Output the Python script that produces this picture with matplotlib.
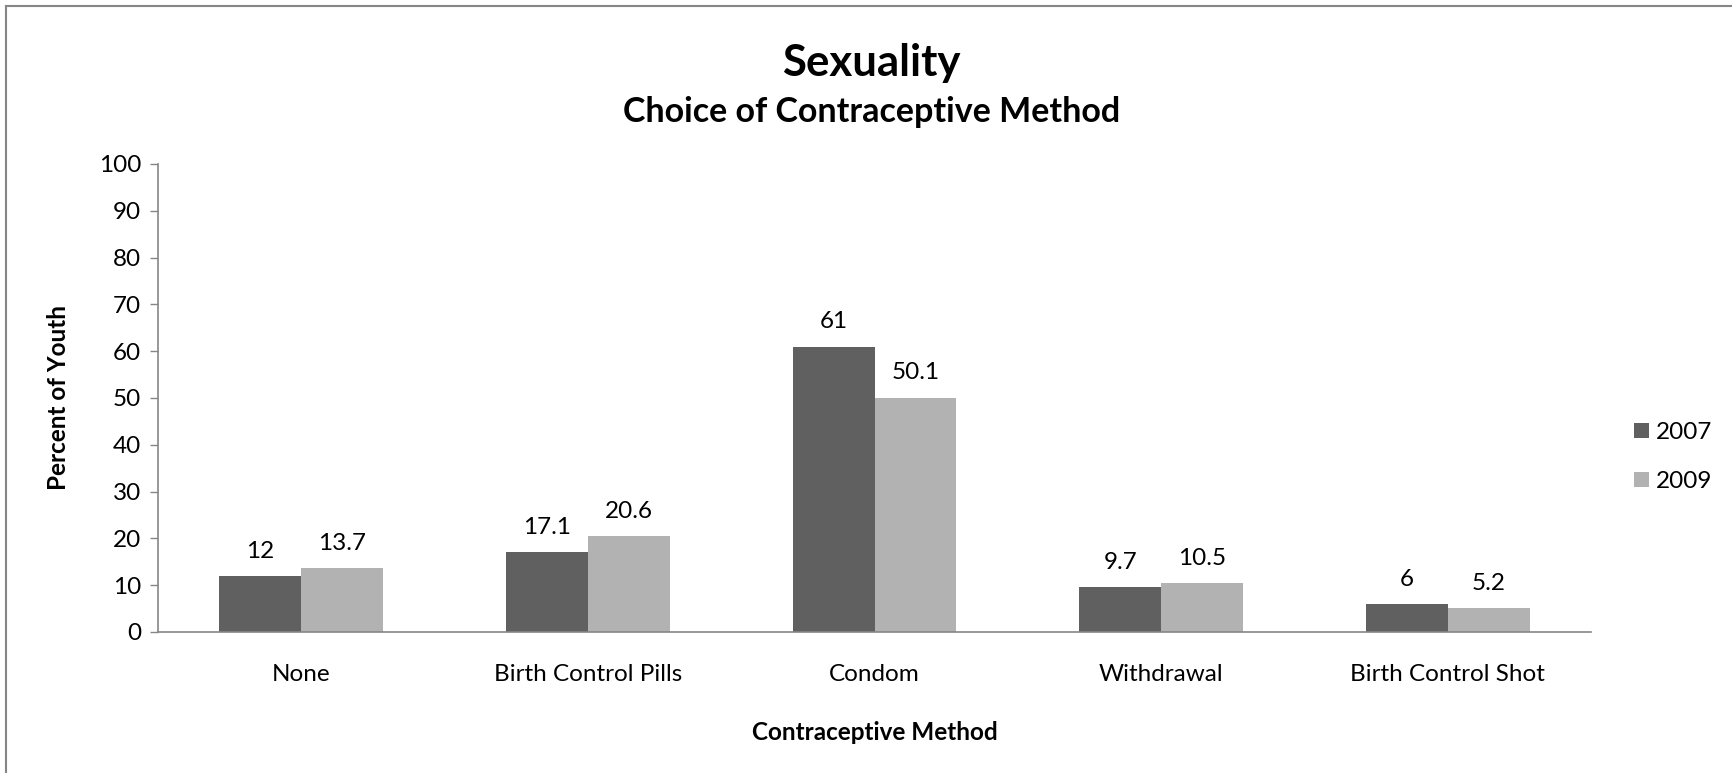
import matplotlib
matplotlib.use("Agg")
import matplotlib.pyplot as plt
from matplotlib.lines import Line2D
import numpy as np

plt.rcParams['font.family'] = ['Lato', 'DejaVu Sans']

categories = ["None", "Birth Control Pills", "Condom", "Withdrawal", "Birth Control Shot"]
years = ["2007", "2009"]
vals_2007 = [12, 17.1, 61, 9.7, 6]
vals_2009 = [13.7, 20.6, 50.1, 10.5, 5.2]
yticks = list(range(0, 101, 10))

dark = "#606060"
light = "#b2b2b2"
axis_gray = "#868686"
fs = 17.5

fig = plt.figure(figsize=(17.32, 7.73), dpi=100)
ax = fig.add_axes([158/1732, 1-632/773, (1591-158)/1732, (632-164)/773])

x = np.arange(len(categories))
w = 1/3.5
b1 = ax.bar(x - w/2, vals_2007, w, color=dark, label=years[0])
b2 = ax.bar(x + w/2, vals_2009, w, color=light, label=years[1])

# value labels above bars
for bars, vals in ((b1, vals_2007), (b2, vals_2009)):
    for r, v in zip(bars, vals):
        ax.annotate("%g" % v, (r.get_x() + r.get_width()/2, r.get_height()),
                    xytext=(0, 13), textcoords="offset points",
                    ha="center", va="baseline", fontsize=fs)

ax.set_xlim(-0.5, len(categories) - 0.5)
ax.set_ylim(0, 100)
ax.set_yticks(yticks)
ax.set_xticks(x)
ax.set_xticklabels(categories, fontsize=fs)
ax.tick_params(axis="y", labelsize=fs, length=6, width=1, color=axis_gray, pad=6)
ax.tick_params(axis="x", length=0, pad=23)

for s in ("top", "right"):
    ax.spines[s].set_visible(False)
for s in ("left", "bottom"):
    ax.spines[s].set_color(axis_gray)
    ax.spines[s].set_linewidth(1.2)

ax.set_xlabel("Contraceptive Method", fontsize=fs, fontweight="bold")
ax.xaxis.set_label_coords(0.5, (632-733)/468)
ax.xaxis.label.set_va("center")
ax.set_ylabel("Percent of Youth", fontsize=fs, fontweight="bold")
ax.yaxis.set_label_coords((58-158)/1433, (632-398)/468)
ax.yaxis.label.set_va("center")

fig.text(0.503, 1-76/773, "Sexuality", ha="center", va="baseline",
         fontsize=31.5, fontweight="bold")
fig.text(0.503, 1-122/773, "Choice of Contraceptive Method", ha="center",
         va="baseline", fontsize=24.5, fontweight="bold")

ax.legend(loc="center left", bbox_to_anchor=(1634/1732, 1-457/773),
          bbox_transform=fig.transFigure, frameon=False, fontsize=fs,
          handlelength=0.6, handleheight=0.6, handletextpad=0.3,
          labelspacing=1.15, borderpad=0, borderaxespad=0)

# outer chart frame (only left/top visible in the original crop)
fig.add_artist(Line2D([6/1732, 6/1732], [0, 1-6/773], color=axis_gray,
                      lw=1.5, transform=fig.transFigure))
fig.add_artist(Line2D([6/1732, 1], [1-6/773, 1-6/773], color=axis_gray,
                      lw=1.5, transform=fig.transFigure))

fig.savefig("out.png", dpi=100)
